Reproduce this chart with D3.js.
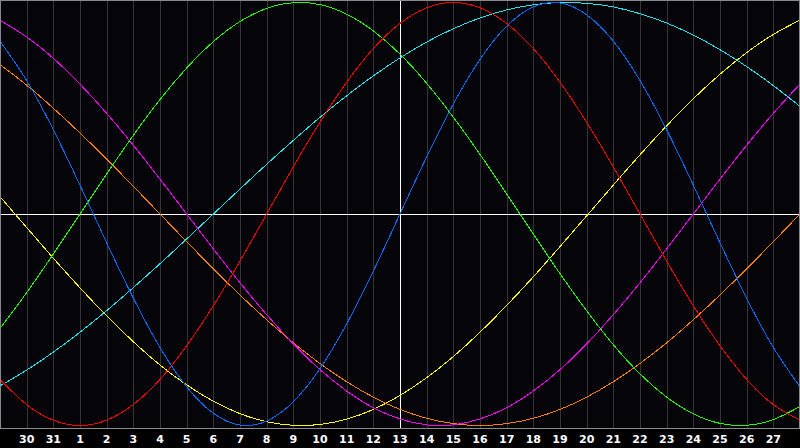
<!DOCTYPE html>
<html>
<head>
<meta charset="utf-8">
<script src="https://cdn.jsdelivr.net/npm/d3@7"></script>
<style>
  html, body { margin: 0; padding: 0; background: #000; }
  svg { display: block; }
  .lbl { font-family: "DejaVu Sans", sans-serif; font-weight: bold; font-size: 11px; fill: #fff; }
</style>
</head>
<body>
<svg width="800" height="448"></svg>
<script>
// day numbers shown along the bottom (index 0 .. 30), today = 13
var days = [29, 30, 31, 1, 2, 3, 4, 5, 6, 7, 8, 9, 10, 11, 12, 13, 14, 15, 16, 17, 18, 19, 20, 21, 22, 23, 24, 25, 26, 27, 28];
var today = 13;

// cycle values in percent, one per day
var physical     = [81.7, 63.1, 39.8, 13.6, -13.6, -39.8, -63.1, -81.7, -94.2, -99.8, -97.9, -88.8, -73.1, -52.0, -27.0, 0, 27.0, 52.0, 73.1, 88.8, 97.9, 99.8, 94.2, 81.7, 63.1, 39.8, 13.6, -13.6, -39.8, -63.1, -81.7];
var emotional    = [-78.2, -90.1, -97.5, -100, -97.5, -90.1, -78.2, -62.3, -43.4, -22.3, 0, 22.3, 43.4, 62.3, 78.2, 90.1, 97.5, 100, 97.5, 90.1, 78.2, 62.3, 43.4, 22.3, 0, -22.3, -43.4, -62.3, -78.2, -90.1, -97.5];
var intellectual = [-54.1, -37.2, -18.9, 0, 18.9, 37.2, 54.1, 69.0, 81.5, 91.0, 97.2, 99.9, 99.0, 94.5, 86.6, 75.6, 61.8, 45.8, 28.2, 9.5, -9.5, -28.2, -45.8, -61.8, -75.6, -86.6, -94.5, -99.0, -99.9, -97.2, -91.0];
var intuitive    = [91.6, 83.7, 73.6, 61.4, 47.6, 32.5, 16.5, 0, -16.5, -32.5, -47.6, -61.4, -73.6, -83.7, -91.6, -96.9, -99.7, -99.7, -96.9, -91.6, -83.7, -73.6, -61.4, -47.6, -32.5, -16.5, 0, 16.5, 32.5, 47.6, 61.4];
var aesthetic    = [8.2, -6.4, -20.9, -34.9, -48.2, -60.4, -71.4, -80.8, -88.5, -94.4, -98.2, -99.9, -99.5, -97.0, -92.4, -85.8, -77.4, -67.4, -55.9, -43.2, -29.7, -15.4, -0.9, 13.7, 28.0, 41.7, 54.5, 66.1, 76.3, 84.9, 91.7];
var awareness    = [70.7, 60.9, 50.0, 38.3, 25.9, 13.1, 0, -13.1, -25.9, -38.3, -50.0, -60.9, -70.7, -79.3, -86.6, -92.4, -96.6, -99.1, -100, -99.1, -96.6, -92.4, -86.6, -79.3, -70.7, -60.9, -50.0, -38.3, -25.9, -13.1, 0];
var spiritual    = [-81.3, -73.8, -65.3, -55.9, -45.7, -34.8, -23.5, -11.8, 0, 11.8, 23.5, 34.8, 45.7, 55.9, 65.3, 73.8, 81.3, 87.6, 92.7, 96.5, 98.9, 100, 99.6, 97.9, 94.7, 90.3, 84.6, 77.7, 69.7, 60.7, 50.9];

var series = [
  { name: "spiritual", values: spiritual, color: "#20e8f0" },
  { name: "aesthetic", values: aesthetic, color: "#ffff00" },
  { name: "awareness", values: awareness, color: "#ff8000" },
  { name: "intuitive", values: intuitive, color: "#ff00ff" },
  { name: "intellectual", values: intellectual, color: "#22ff00" },
  { name: "emotional", values: emotional, color: "#ff0000" },
  { name: "physical", values: physical, color: "#0a6cff" }
];

var svg = d3.select("svg");
var W = 800, plotH = 428;

var x = d3.scaleLinear().domain([0, days.length - 1]).range([0, W]);
var y = d3.scaleLinear().domain([-100, 100]).range([425.5, 2.5]);

// plot background
svg.append("rect")
  .attr("x", 0).attr("y", 0)
  .attr("width", W).attr("height", plotH)
  .attr("fill", "#050509");

// day grid
svg.append("g")
  .selectAll("line")
  .data(d3.range(1, days.length - 1))
  .enter()
  .append("line")
  .attr("x1", function(i) { return Math.round(x(i)) + 0.5; })
  .attr("x2", function(i) { return Math.round(x(i)) + 0.5; })
  .attr("y1", 0).attr("y2", plotH)
  .attr("stroke", "#363636")
  .attr("shape-rendering", "crispEdges");

// zero line and today line
var ti = days.indexOf(today);
svg.append("line")
  .attr("x1", 0).attr("x2", W)
  .attr("y1", Math.round(y(0)) + 0.5).attr("y2", Math.round(y(0)) + 0.5)
  .attr("stroke", "#fff")
  .attr("shape-rendering", "crispEdges");
svg.append("line")
  .attr("x1", Math.round(x(ti)) + 0.5).attr("x2", Math.round(x(ti)) + 0.5)
  .attr("y1", 0).attr("y2", plotH)
  .attr("stroke", "#fff")
  .attr("shape-rendering", "crispEdges");

// the cycles (aliased, like the original)
var line = d3.line()
  .x(function(d, i) { return x(i); })
  .y(function(d) { return y(d); })
  .curve(d3.curveNatural);

svg.append("g")
  .selectAll("path")
  .data(series)
  .enter()
  .append("path")
  .attr("d", function(s) { return line(s.values); })
  .attr("fill", "none")
  .attr("stroke", function(s) { return s.color; })
  .attr("stroke-width", 1)
  .attr("shape-rendering", "crispEdges");

// frame
svg.append("rect")
  .attr("x", 0.5).attr("y", 0.5)
  .attr("width", W - 1).attr("height", plotH - 0.5)
  .attr("fill", "none")
  .attr("stroke", "#8a8a8a")
  .attr("shape-rendering", "crispEdges");

// day labels
svg.append("g")
  .selectAll("text")
  .data(d3.range(1, days.length - 1))
  .enter()
  .append("text")
  .attr("class", "lbl")
  .attr("x", function(i) { return x(i); })
  .attr("y", 443)
  .attr("text-anchor", "middle")
  .text(function(i) { return days[i]; });
</script>
</body>
</html>
